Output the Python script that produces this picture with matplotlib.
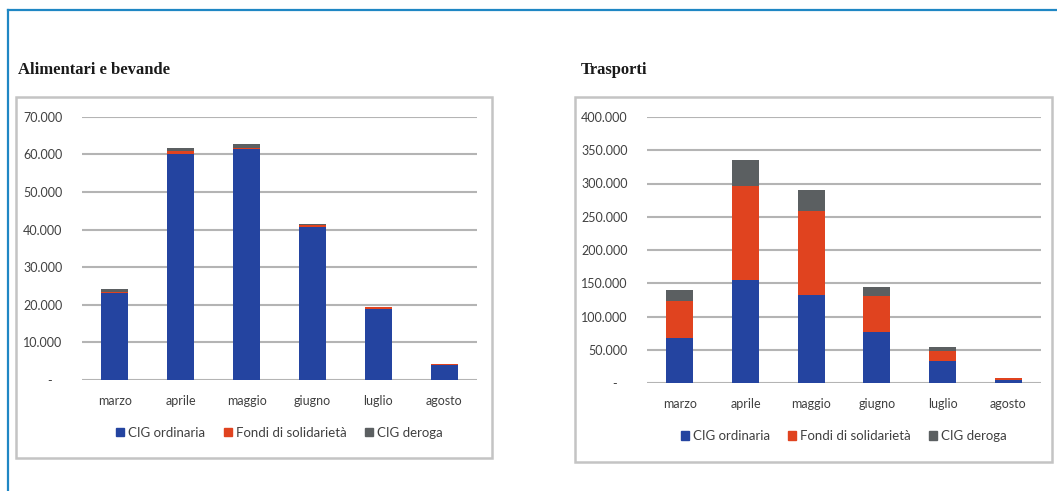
import matplotlib.pyplot as plt
from matplotlib.patches import Rectangle, Patch
from matplotlib.lines import Line2D
from matplotlib.ticker import FuncFormatter

mesi = ['marzo', 'aprile', 'maggio', 'giugno', 'luglio', 'agosto']
serie = ['CIG ordinaria', 'Fondi di solidarietà', 'CIG deroga']

# Alimentari e bevande
alim_ord = [23000, 60200, 61300, 40800, 18900, 4100]
alim_fondi = [300, 600, 500, 500, 400, 50]
alim_deroga = [800, 1000, 900, 200, 150, 50]

# Trasporti
trasp_ord = [67700, 154400, 132800, 76700, 33600, 4000]
trasp_fondi = [55100, 142300, 125800, 54600, 14000, 3000]
trasp_deroga = [17600, 38100, 31100, 13100, 6500, 1000]

c_blu = '#2444a0'
c_rosso = '#e0431f'
c_grigio = '#5b5f61'
c_testo = '#404040'

W, H = 1057, 491
fig = plt.figure(figsize=(W / 100, H / 100), dpi=100)
fig.patch.set_facecolor('white')


def px(x0, y0, x1, y1):
    # converte pixel (origine in alto a sinistra) in coordinate figura
    return [x0 / W, 1 - y1 / H, (x1 - x0) / W, (y1 - y0) / H]


# cornice blu
fig.add_artist(Line2D([8 / W, 1], [1 - 10 / H, 1 - 10 / H], color='#1f87c4', lw=1.6))
fig.add_artist(Line2D([8 / W, 8 / W], [0, 1 - 10 / H], color='#1f87c4', lw=1.6))

# riquadri dei grafici
for (x0, y0, x1, y1) in [(16, 97, 492, 458), (575, 97, 1052, 462)]:
    b = px(x0, y0, x1, y1)
    fig.add_artist(Rectangle((b[0], b[1]), b[2], b[3], transform=fig.transFigure,
                             fill=False, edgecolor='#c4c4c4', lw=1.8))

fig.text(18 / W, 1 - 70 / H, 'Alimentari e bevande', family='Liberation Serif',
         fontsize=12, weight='bold', color='#1a1a1a', va='center', ha='left')
fig.text(581 / W, 1 - 70 / H, 'Trasporti', family='Liberation Serif',
         fontsize=12, weight='bold', color='#1a1a1a', va='center', ha='left')


def fmt(v, pos):
    if v == 0:
        return '-   '
    return '{:,.0f}'.format(v).replace(',', '.')


def disegna(ax, ord_, fondi, deroga, ymax, step, leg_y):
    x = range(len(mesi))
    b1 = [o + f for o, f in zip(ord_, fondi)]
    ax.bar(x, ord_, width=0.41, color=c_blu, zorder=3)
    ax.bar(x, fondi, width=0.41, bottom=ord_, color=c_rosso, zorder=3)
    ax.bar(x, deroga, width=0.41, bottom=b1, color=c_grigio, zorder=3)
    ax.set_xlim(-0.5, len(mesi) - 0.5)
    ax.set_ylim(0, ymax)
    ax.set_yticks(range(0, ymax + 1, step))
    ax.yaxis.set_major_formatter(FuncFormatter(fmt))
    ax.set_xticks(list(x))
    ax.set_xticklabels(mesi)
    ax.grid(axis='y', color='#b4b4b4', lw=1.5, zorder=0)
    for s in ax.spines.values():
        s.set_visible(False)
    ax.tick_params(length=0, labelsize=9, labelcolor=c_testo)
    ax.tick_params(axis='x', pad=11)
    ax.tick_params(axis='y', pad=14)
    for t in ax.get_xticklabels() + ax.get_yticklabels():
        t.set_family('Lato')
    handles = [Patch(color=c) for c in (c_blu, c_rosso, c_grigio)]
    ax.legend(handles, serie, loc='center', bbox_to_anchor=(0.5, leg_y), ncol=3,
              frameon=False, handlelength=0.6, handleheight=0.6, handletextpad=0.3,
              columnspacing=1.4, prop={'family': 'Lato', 'size': 9.5},
              labelcolor=c_testo)


ax1 = fig.add_axes(px(82, 116.7, 477, 380))
disegna(ax1, alim_ord, alim_fondi, alim_deroga, 70000, 10000, -0.2)

ax2 = fig.add_axes(px(647, 117, 1041, 383))
disegna(ax2, trasp_ord, trasp_fondi, trasp_deroga, 400000, 50000, -0.2)

fig.savefig('out.png', dpi=100)
